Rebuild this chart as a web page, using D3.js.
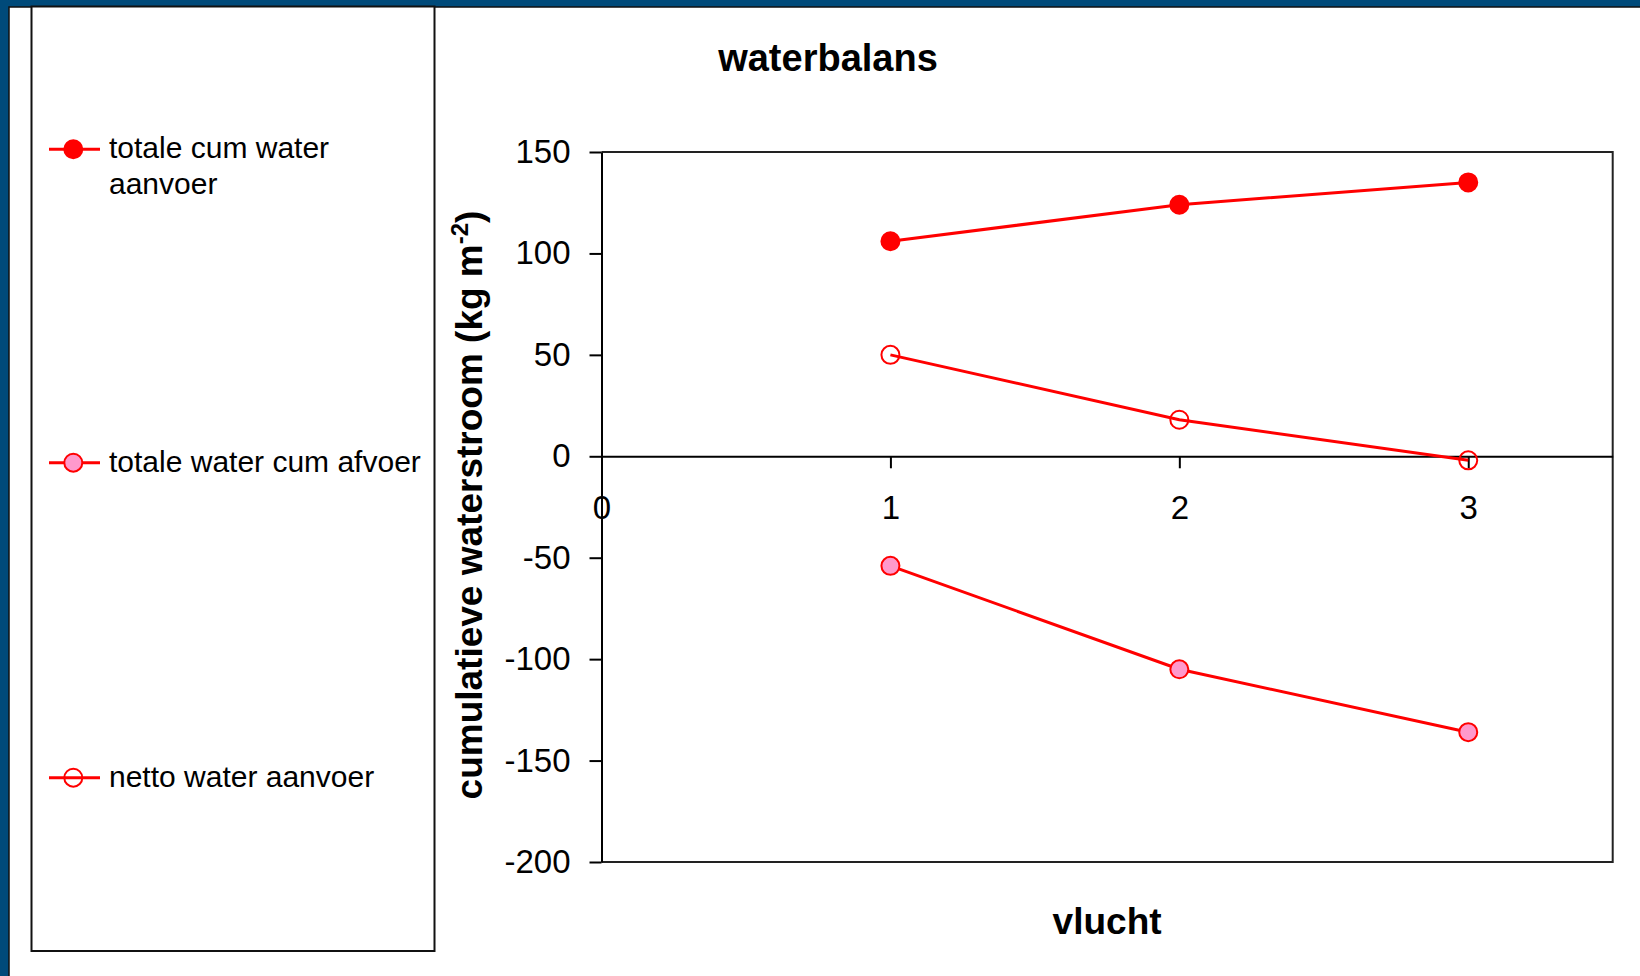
<!DOCTYPE html>
<html>
<head>
<meta charset="utf-8">
<script src="https://cdn.jsdelivr.net/npm/d3@7/dist/d3.min.js"></script>
<style>
  html, body { margin: 0; padding: 0; background: #ffffff; }
  svg { display: block; }
  text { font-family: "Liberation Sans", Arial, sans-serif; fill: #000; }
</style>
</head>
<body>
<svg id="chart" width="1640" height="976"></svg>
<script>
// ---- data ----
const vlucht = [1, 2, 3];
const seriesNames = ["totale cum water aanvoer", "totale water cum afvoer", "netto water aanvoer"];
const aanvoer = [106, 124, 135];
const afvoer = [-54, -105, -136];
const netto = [50, 18, -2];
const yTicks = [150, 100, 50, 0, -50, -100, -150, -200];
const yTickLabels = ["150", "100", "50", "0", "-50", "-100", "-150", "-200"];
const xTicks = [0, 1, 2, 3];
const xTickLabels = ["0", "1", "2", "3"];
const titleText = "waterbalans";
const xLabelText = "vlucht";

const W = 1640, H = 976;
const svg = d3.select("#chart");

// page background: blue band left and top
svg.append("rect").attr("x", 0).attr("y", 0).attr("width", W).attr("height", H).attr("fill", "#004a7a");
svg.append("rect").attr("x", 9).attr("y", 7).attr("width", W - 9).attr("height", H - 7).attr("fill", "#ffffff");
svg.append("path").attr("d", `M9,${H}V7H${W}`).attr("fill", "none").attr("stroke", "#111").attr("stroke-width", 1.5);

// legend box
svg.append("rect").attr("x", 31.5).attr("y", 6.5).attr("width", 403).attr("height", 944.5)
  .attr("fill", "#fff").attr("stroke", "#111").attr("stroke-width", 2);

// plot area
const plot = { left: 601.5, right: 1612.7, top: 152, bottom: 862 };
const x = d3.scaleLinear().domain([0, 3.5]).range([plot.left, plot.right]);
const y = d3.scaleLinear().domain([-200, 150]).range([plot.bottom, plot.top]);

// frame top/right/bottom
svg.append("path")
  .attr("d", `M${plot.left},${plot.top}H${plot.right}V${plot.bottom}H${plot.left}`)
  .attr("fill", "none").attr("stroke", "#222").attr("stroke-width", 2);

// y axis
const yAxis = svg.append("g").attr("transform", `translate(${plot.left},0)`)
  .call(d3.axisLeft(y).tickValues(yTicks).tickSize(12).tickSizeOuter(0).tickPadding(19)
    .tickFormat((d, i) => yTickLabels[i]));
yAxis.selectAll("path, line").attr("stroke", "#000").attr("stroke-width", 2);
yAxis.selectAll("text").attr("font-size", 33).attr("font-family", "Liberation Sans, Arial, sans-serif").attr("fill", "#000");

// x axis at y=0
const xAxis = svg.append("g").attr("transform", `translate(0,${y(0)})`)
  .call(d3.axisBottom(x).tickValues(xTicks).tickSize(12).tickSizeOuter(0).tickPadding(27)
    .tickFormat((d, i) => xTickLabels[i]));
xAxis.selectAll("path, line").attr("stroke", "#000").attr("stroke-width", 2);
xAxis.selectAll("text").attr("font-size", 33).attr("font-family", "Liberation Sans, Arial, sans-serif").attr("fill", "#000");

// series
const series = [
  { name: seriesNames[0], values: aanvoer, fill: "#ff0000", stroke: "#ff0000" },
  { name: seriesNames[1], values: afvoer, fill: "#ff99cc", stroke: "#ff0000" },
  { name: seriesNames[2], values: netto, fill: "none", stroke: "#ff0000" }
];
const line = d3.line().x((d, i) => x(vlucht[i])).y(d => y(d));

series.forEach(s => {
  svg.append("path").datum(s.values).attr("d", line)
    .attr("fill", "none").attr("stroke", "#ff0000").attr("stroke-width", 3);
});
series.forEach(s => {
  svg.selectAll(null).data(s.values).enter().append("circle")
    .attr("cx", (d, i) => x(vlucht[i])).attr("cy", d => y(d))
    .attr("r", 9)
    .attr("fill", s.fill).attr("stroke", s.stroke).attr("stroke-width", 2);
});

// legend entries
const legendY = [149.3, 462.7, 777.7];
const legendLines = [["totale cum water", "aanvoer"], ["totale water cum afvoer"], ["netto water aanvoer"]];
series.forEach((s, k) => {
  const g = svg.append("g").attr("transform", `translate(0,${legendY[k]})`);
  g.append("line").attr("x1", 49).attr("x2", 100).attr("y1", 0).attr("y2", 0)
    .attr("stroke", "#ff0000").attr("stroke-width", 3);
  g.append("circle").attr("cx", 73.3).attr("cy", 0).attr("r", 9)
    .attr("fill", s.fill).attr("stroke", s.stroke).attr("stroke-width", 2);
  const t = g.append("text").attr("x", 109).attr("y", 9).attr("font-size", 30);
  legendLines[k].forEach((ln, j) => {
    t.append("tspan").attr("x", 109).attr("dy", j === 0 ? 0 : 36).text(ln);
  });
});

// title
svg.append("text").attr("x", 828).attr("y", 71).attr("text-anchor", "middle")
  .attr("font-size", 38).attr("font-weight", "bold").text(titleText);

// x label
svg.append("text").attr("x", (plot.left + plot.right) / 2).attr("y", 934).attr("text-anchor", "middle")
  .attr("font-size", 37).attr("font-weight", "bold").text(xLabelText);

// y label
const yl = svg.append("text")
  .attr("transform", `translate(482,${(plot.top + plot.bottom) / 2 - 2}) rotate(-90)`)
  .attr("text-anchor", "middle").attr("font-size", 37).attr("font-weight", "bold");
yl.append("tspan").text("cumulatieve waterstroom (kg m");
yl.append("tspan").attr("font-size", 24).attr("dy", -14).text("-2");
yl.append("tspan").attr("dy", 14).text(")");
</script>
</body>
</html>
